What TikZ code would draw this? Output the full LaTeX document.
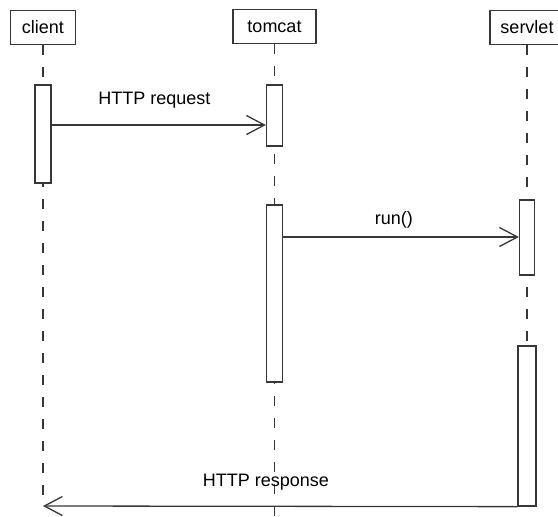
\documentclass[tikz,border=0pt]{standalone}
\usepackage{fontspec}
\setmainfont{Liberation Sans}
\usetikzlibrary{arrows.meta}
\definecolor{ink}{RGB}{55,55,55}

\begin{document}
\begin{tikzpicture}[x=1pt,y=-1pt,
  every node/.style={font=\fontsize{18}{21}\selectfont},
  head/.style={draw=ink,line width=1.3pt,minimum height=34pt,inner sep=0pt},
  act/.style={draw=ink,line width=1.3pt,fill=white,minimum width=16pt,inner sep=0pt},
  life/.style={draw=ink,line width=1.3pt,dash pattern=on 10pt off 12pt},
  msg/.style={draw=ink,line width=1.3pt,-{Straight Barb[length=18pt,width=19pt,line width=1.3pt]}},
  lbl/.style={inner sep=0pt,anchor=base}]
\newcommand{\xclient}{43}
\newcommand{\xtomcat}{274.5}
\newcommand{\xservlet}{527}
\newcommand{\yreq}{125}
\newcommand{\yrun}{237}
\newcommand{\yresp}{506}
\useasboundingbox (0,0) rectangle (558,517);
\clip (0,0) rectangle (558,517);
% heads
\node [head,minimum width=65pt] (client) at (\xclient,27.5) {client};
\node [head,minimum width=83pt] (tomcat) at (\xtomcat,26.5) {tomcat};
\node [head,minimum width=74pt] (servlet) at (\xservlet,27.5) {servlet};
\coordinate (cend) at (\xclient,\yresp);
\coordinate (tend) at (\xtomcat,517);
\coordinate (send) at (\xservlet,\yresp);
% lifelines
\draw [life] (client.south) -- (cend);
\draw [life] (tomcat.south) -- (tend);
\draw [life] (servlet.south) -- (send);
% activations
\node [act,minimum height=98pt] (cact) at (\xclient,134) {};
\node [act,minimum height=61pt] (tact1) at (\xtomcat,115.5) {};
\node [act,minimum height=177pt] (tact2) at (\xtomcat,293.5) {};
\node [act,minimum height=75pt,minimum width=15pt] (sact1) at (\xservlet,237.5) {};
\node [act,minimum height=160pt,minimum width=18pt] (sact2) at (\xservlet,426) {};
% messages
\draw [msg] (cact.east |- 0,\yreq) -- node [lbl,pos=0.48,yshift=21pt] {HTTP request} (tact1.west |- 0,\yreq);
\draw [msg] (tact2.east |- 0,\yrun) -- node [lbl,pos=0.47,yshift=13pt] {run()} (sact1.west |- 0,\yrun);
\draw [msg] (sact2.south west) -- node [lbl,pos=0.53,yshift=20pt] {HTTP response} (cend);
\end{tikzpicture}
\end{document}
